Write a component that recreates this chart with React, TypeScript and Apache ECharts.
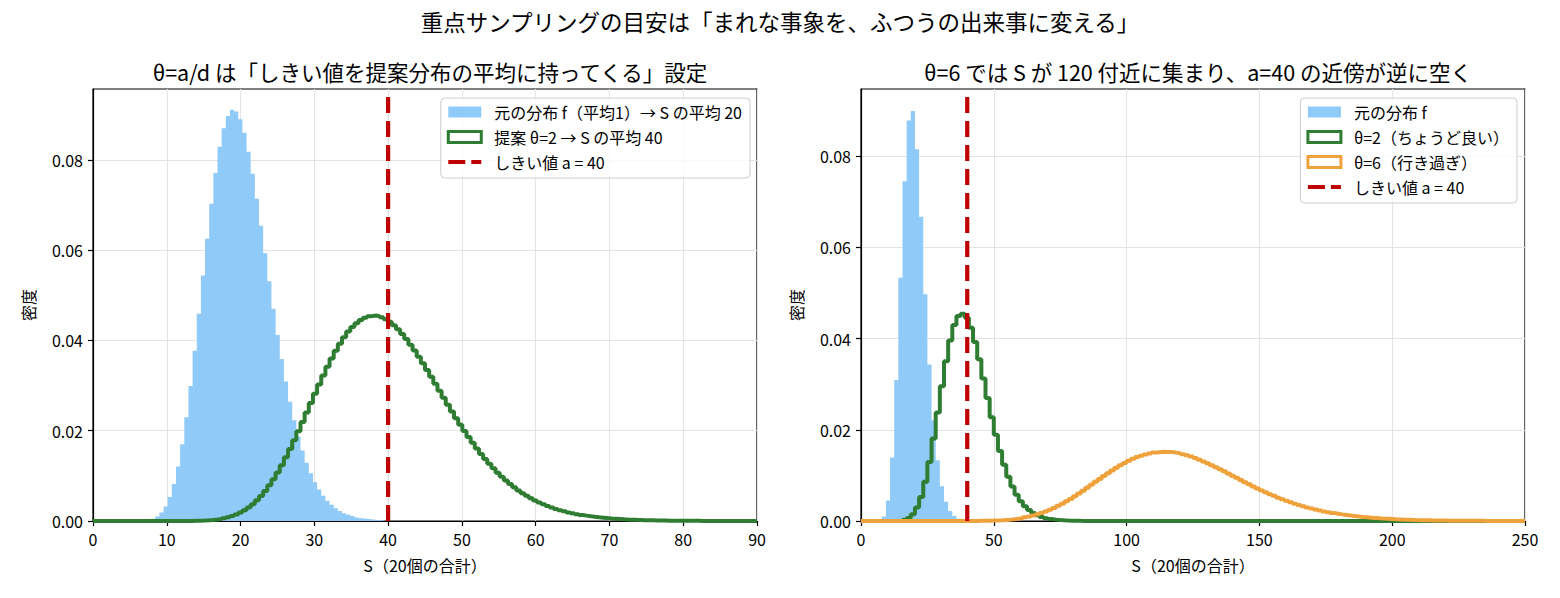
import React, { useEffect, useRef } from 'react'
import * as echarts from 'echarts'

// タイトル・ラベル
const suptitle = '重点サンプリングの目安は「まれな事象を、ふつうの出来事に変える」'
const leftTitle = 'θ=a/d は「しきい値を提案分布の平均に持ってくる」設定'
const rightTitle = 'θ=6 では S が 120 付近に集まり、a=40 の近傍が逆に空く'
const xName = 'S（20個の合計）'
const yName = '密度'

const leftNames = ['元の分布 f（平均1）→ S の平均 20', '提案 θ=2 → S の平均 40']
const rightNames = ['元の分布 f', 'θ=2（ちょうど良い）', 'θ=6（行き過ぎ）']
const thresholdName = 'しきい値 a = 40'
const threshold = 40

// 軸
const leftRange = [0, 90]
const rightRange = [0, 250]
const leftXStep = 10
const rightXStep = 50
const yTicks = [0, 0.02, 0.04, 0.06, 0.08]
const leftYMax = 0.0957
const rightYMax = 0.0947

// ヒストグラム（ビン数は両パネルとも 160、値は密度。start はデータの最初のビン番号）
const binCount = 160

const leftBaseStart = 12
const leftBase = [
  0.0001, 0.0002, 0.0005, 0.0010, 0.0019, 0.0032, 0.0053, 0.0082, 0.0121, 0.0170,
  0.0230, 0.0299, 0.0377, 0.0459, 0.0544, 0.0625, 0.0703, 0.0771, 0.0829, 0.0870,
  0.0897, 0.0911, 0.0907, 0.0890, 0.0860, 0.0818, 0.0769, 0.0714, 0.0654, 0.0593,
  0.0531, 0.0470, 0.0412, 0.0359, 0.0309, 0.0264, 0.0223, 0.0187, 0.0156, 0.0129,
  0.0106, 0.0086, 0.0070, 0.0056, 0.0045, 0.0036, 0.0028, 0.0022, 0.0017, 0.0014,
  0.0011, 0.0008, 0.0006, 0.0005, 0.0004, 0.0003, 0.0002, 0.0002,
]

const leftProposalStart = 24
const leftProposal = [
  0.00004, 0.00006, 0.00009, 0.00014, 0.00021, 0.00031, 0.00043, 0.00060, 0.00082, 0.00110,
  0.00144, 0.00187, 0.00239, 0.00301, 0.00373, 0.00458, 0.00555, 0.00666, 0.00790, 0.00926,
  0.01076, 0.01237, 0.01410, 0.01594, 0.01788, 0.01988, 0.02193, 0.02401, 0.02612, 0.02820,
  0.03024, 0.03223, 0.03417, 0.03599, 0.03769, 0.03926, 0.04072, 0.04196, 0.04298, 0.04383,
  0.04452, 0.04503, 0.04537, 0.04550, 0.04541, 0.04515, 0.04472, 0.04413, 0.04339, 0.04249,
  0.04144, 0.04030, 0.03907, 0.03777, 0.03638, 0.03494, 0.03345, 0.03194, 0.03040, 0.02885,
  0.02731, 0.02577, 0.02425, 0.02276, 0.02132, 0.01993, 0.01860, 0.01731, 0.01606, 0.01487,
  0.01374, 0.01267, 0.01166, 0.01070, 0.00980, 0.00897, 0.00819, 0.00746, 0.00678, 0.00616,
  0.00559, 0.00506, 0.00456, 0.00411, 0.00370, 0.00333, 0.00299, 0.00268, 0.00240, 0.00214,
  0.00191, 0.00170, 0.00151, 0.00134, 0.00119, 0.00105, 0.00093, 0.00082, 0.00073, 0.00064,
  0.00056, 0.00050, 0.00044, 0.00038, 0.00033, 0.00029, 0.00025, 0.00022, 0.00019, 0.00017,
  0.00015, 0.00013, 0.00011, 0.00010, 0.00008, 0.00007, 0.00006, 0.00006, 0.00005, 0.00004,
  0.00003, 0.00003, 0.00002, 0.00002, 0.00001, 0.00001,
]

const rightBaseStart = 4
const rightBase = [
  0.0001, 0.0010, 0.0045, 0.0139, 0.0309, 0.0533, 0.0745, 0.0878, 0.0899, 0.0815,
  0.0667, 0.0497, 0.0343, 0.0221, 0.0133, 0.0076, 0.0042, 0.0022, 0.0011, 0.0005,
  0.0002, 0.0001,
]

const rightGoodStart = 9
const rightGood = [
  0.00008, 0.00026, 0.00067, 0.00150, 0.00295, 0.00525, 0.00861, 0.01296, 0.01811, 0.02376,
  0.02954, 0.03503, 0.03959, 0.04298, 0.04496, 0.04545, 0.04458, 0.04236, 0.03922, 0.03544,
  0.03126, 0.02697, 0.02276, 0.01889, 0.01537, 0.01232, 0.00970, 0.00754, 0.00578, 0.00434,
  0.00325, 0.00240, 0.00174, 0.00126, 0.00089, 0.00063, 0.00044, 0.00030, 0.00021, 0.00014,
  0.00010, 0.00007, 0.00005, 0.00003, 0.00002,
]

const rightOverStart = 25
const rightOver = [
  0.00001, 0.00001, 0.00002, 0.00003, 0.00004, 0.00007, 0.00009, 0.00013, 0.00017, 0.00023,
  0.00030, 0.00040, 0.00051, 0.00065, 0.00081, 0.00100, 0.00123, 0.00148, 0.00178, 0.00210,
  0.00248, 0.00287, 0.00333, 0.00379, 0.00432, 0.00485, 0.00543, 0.00603, 0.00665, 0.00728,
  0.00793, 0.00858, 0.00922, 0.00985, 0.01048, 0.01108, 0.01168, 0.01221, 0.01273, 0.01320,
  0.01365, 0.01401, 0.01433, 0.01460, 0.01481, 0.01499, 0.01509, 0.01518, 0.01515, 0.01512,
  0.01499, 0.01486, 0.01465, 0.01442, 0.01412, 0.01380, 0.01345, 0.01307, 0.01267, 0.01224,
  0.01181, 0.01135, 0.01089, 0.01042, 0.00994, 0.00946, 0.00899, 0.00851, 0.00804, 0.00759,
  0.00714, 0.00671, 0.00630, 0.00589, 0.00551, 0.00512, 0.00477, 0.00443, 0.00411, 0.00380,
  0.00351, 0.00323, 0.00298, 0.00274, 0.00251, 0.00230, 0.00210, 0.00193, 0.00175, 0.00160,
  0.00145, 0.00132, 0.00119, 0.00108, 0.00098, 0.00088, 0.00080, 0.00072, 0.00065, 0.00058,
  0.00052, 0.00047, 0.00042, 0.00037, 0.00034, 0.00030, 0.00027, 0.00024, 0.00021, 0.00019,
  0.00017, 0.00015, 0.00013, 0.00012, 0.00010, 0.00009, 0.00008, 0.00007, 0.00006, 0.00005,
  0.00005, 0.00004, 0.00004, 0.00003, 0.00003, 0.00002, 0.00002, 0.00002, 0.00001, 0.00001,
]

const FONT = "'Noto Sans CJK JP', 'Noto Sans', sans-serif"
const BLUE = '#90caf9'
const GREEN = '#2e7d32'
const ORANGE = '#efa23b'
const RED = '#c00000'
// 凡例の破線アイコン（長い線 + 短い線）
const DASH_ICON = 'path://M0,0h17v4h-17zM23,0h10v4h-10z'

// ビンの値を階段線の点 [左端, 値] に並べる。範囲外のビンは 0
const toSteps = (values: number[], start: number, range: number[]) => {
  const w = (range[1] - range[0]) / binCount
  const pts: number[][] = []
  for (let i = 0; i < binCount; i++) {
    const k = i - start
    pts.push([range[0] + i * w, k >= 0 && k < values.length ? values[k] : 0])
  }
  pts.push([range[1], 0])
  return pts
}

const areaSeries = (name: string, values: number[], start: number, range: number[], idx: number) => ({
  name,
  type: 'line',
  step: 'end',
  xAxisIndex: idx,
  yAxisIndex: idx,
  symbol: 'none',
  silent: true,
  data: toSteps(values, start, range),
  lineStyle: { width: 0, color: BLUE },
  itemStyle: { color: BLUE },
  areaStyle: { color: BLUE, opacity: 1 },
})

const stepSeries = (name: string, values: number[], start: number, range: number[], idx: number, color: string) => ({
  name,
  type: 'line',
  step: 'end',
  xAxisIndex: idx,
  yAxisIndex: idx,
  symbol: 'none',
  silent: true,
  data: toSteps(values, start, range),
  lineStyle: { width: 4, color },
  itemStyle: { color },
})

const thresholdSeries = (idx: number, yMax: number) => ({
  name: thresholdName,
  type: 'line',
  xAxisIndex: idx,
  yAxisIndex: idx,
  symbol: 'none',
  silent: true,
  data: [[threshold, 0], [threshold, yMax]],
  lineStyle: { width: 4.2, color: RED, type: [16, 8] },
  itemStyle: { color: RED },
})

const textBase = { color: '#000', fontFamily: FONT }

const xAxisFor = (range: number[], step: number, idx: number) => ({
  type: 'value',
  gridIndex: idx,
  min: range[0],
  max: range[1],
  interval: step,
  name: xName,
  nameLocation: 'middle',
  nameGap: 36,
  nameTextStyle: { ...textBase, fontSize: 16 },
  axisLine: { show: true, onZero: false, lineStyle: { color: '#000', width: 1.2 } },
  axisTick: { show: true, length: 5, lineStyle: { color: '#000', width: 1.2 } },
  axisLabel: { ...textBase, fontSize: 16, margin: 10 },
  splitLine: { show: true, lineStyle: { color: '#e3e3e3', width: 1 } },
})

const yAxisFor = (yMax: number, idx: number) => ({
  type: 'value',
  gridIndex: idx,
  min: 0,
  max: yMax,
  name: yName,
  nameLocation: 'middle',
  nameGap: 57,
  nameTextStyle: { ...textBase, fontSize: 16 },
  axisLine: { show: true, lineStyle: { color: '#000', width: 1.2 } },
  axisTick: { show: true, length: 5, customValues: yTicks, lineStyle: { color: '#000', width: 1.2 } },
  axisLabel: {
    ...textBase,
    fontSize: 16,
    margin: 10,
    customValues: yTicks,
    formatter: (v: number) => v.toFixed(2),
  },
  splitLine: { show: true, lineStyle: { color: '#e3e3e3', width: 1 } },
})

const legendBase = {
  orient: 'vertical',
  top: 98,
  padding: [5, 8, 7, 6],
  itemGap: 7,
  itemWidth: 33,
  itemHeight: 11,
  borderColor: '#cccccc',
  borderWidth: 1,
  borderRadius: 4,
  backgroundColor: 'rgba(255,255,255,0.8)',
  selectedMode: false,
  textStyle: { ...textBase, fontSize: 16, lineHeight: 18, padding: [0, 0, 0, 8] },
}

const App = () => {
  const chartRef = useRef<HTMLDivElement>(null)

  useEffect(() => {
    const chart = echarts.init(chartRef.current!, null, { renderer: 'svg' })

    chart.setOption({
      animation: false,
      backgroundColor: '#fff',
      title: [
        { text: suptitle, left: 'center', top: 5, textStyle: { ...textBase, fontSize: 22.5, fontWeight: 'normal' } },
        { text: leftTitle, left: 425, textAlign: 'center', top: 56, textStyle: { ...textBase, fontSize: 21.5, fontWeight: 'normal' } },
        { text: rightTitle, left: 1193, textAlign: 'center', top: 56, textStyle: { ...textBase, fontSize: 21.5, fontWeight: 'normal' } },
      ],
      grid: [
        { left: 93, right: 803, top: 89, bottom: 77, show: true, borderColor: '#000', borderWidth: 1.2 },
        { left: 861, right: 35, top: 89, bottom: 77, show: true, borderColor: '#000', borderWidth: 1.2 },
      ],
      xAxis: [xAxisFor(leftRange, leftXStep, 0), xAxisFor(rightRange, rightXStep, 1)],
      yAxis: [yAxisFor(leftYMax, 0), yAxisFor(rightYMax, 1)],
      legend: [
        {
          ...legendBase,
          right: 810,
          data: [
            { name: leftNames[0], icon: 'rect', itemStyle: { color: BLUE, borderWidth: 0 } },
            { name: leftNames[1], icon: 'rect', itemStyle: { color: '#fff', borderColor: GREEN, borderWidth: 3 } },
            { name: thresholdName, icon: DASH_ICON, itemStyle: { color: RED, borderWidth: 0 } },
          ],
        },
        {
          ...legendBase,
          right: 43,
          data: [
            { name: rightNames[0], icon: 'rect', itemStyle: { color: BLUE, borderWidth: 0 } },
            { name: rightNames[1], icon: 'rect', itemStyle: { color: '#fff', borderColor: GREEN, borderWidth: 3 } },
            { name: rightNames[2], icon: 'rect', itemStyle: { color: '#fff', borderColor: ORANGE, borderWidth: 3 } },
            { name: thresholdName, icon: DASH_ICON, itemStyle: { color: RED, borderWidth: 0 } },
          ],
        },
      ],
      series: [
        areaSeries(leftNames[0], leftBase, leftBaseStart, leftRange, 0),
        stepSeries(leftNames[1], leftProposal, leftProposalStart, leftRange, 0, GREEN),
        thresholdSeries(0, leftYMax),
        areaSeries(rightNames[0], rightBase, rightBaseStart, rightRange, 1),
        stepSeries(rightNames[1], rightGood, rightGoodStart, rightRange, 1, GREEN),
        stepSeries(rightNames[2], rightOver, rightOverStart, rightRange, 1, ORANGE),
        thresholdSeries(1, rightYMax),
      ],
    })

    return () => {
      chart.dispose()
    }
  }, [])

  return (
    <div
      ref={chartRef}
      style={{ position: 'fixed', left: 0, top: 0, width: '1560px', height: '598px', background: '#fff' }}
    ></div>
  )
}

export default App
